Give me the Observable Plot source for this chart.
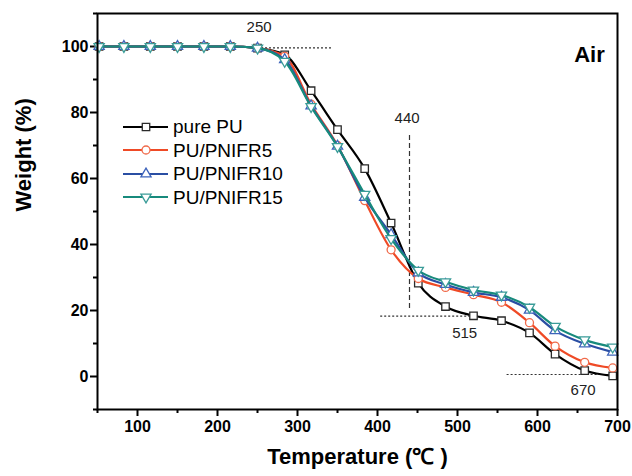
<!DOCTYPE html>
<html><head><meta charset="utf-8">
<script src="https://cdn.jsdelivr.net/npm/d3@7"></script>
<script src="https://cdn.jsdelivr.net/npm/@observablehq/plot@0.6"></script>
<style>
body{margin:0;background:#fff;}
#wrap{position:relative;width:632px;height:476px;font-family:Arial,"Liberation Sans",sans-serif;}
#legend{position:absolute;left:122px;top:115px;}
.row{display:flex;align-items:center;height:23.5px;}
.row span{font-size:19px;margin-left:4px;color:#000;line-height:1;}
</style></head><body><div id="wrap"><div id="legend"></div></div>
<script>
// ---- data ----
const temperature = [52, 83, 116, 150, 183, 216, 250, 284, 317, 350, 384, 417, 451, 485, 520, 555, 590, 622, 659, 694];
const purePU    = [100, 100, 100, 100, 100, 100, 99.5, 97.5, 86.6, 74.8, 63.0, 46.5, 28.3, 21.2, 18.4, 16.9, 13.2, 6.8, 1.8, 0.2];
const pnifr5    = [100, 100, 100, 100, 100, 100, 99.5, 97.0, 82.5, 70.0, 53.3, 38.4, 29.7, 27.0, 24.8, 22.5, 16.3, 9.2, 4.3, 2.6];
const pnifr10   = [100, 100, 100, 100, 100, 100, 99.5, 96.0, 82.0, 69.8, 54.3, 43.0, 31.4, 27.9, 25.5, 24.0, 20.1, 13.9, 9.9, 7.4];
const pnifr15   = [100, 100, 100, 100, 100, 100, 99.5, 95.5, 81.8, 69.7, 55.2, 41.8, 32.2, 28.7, 26.2, 24.7, 21.0, 15.2, 11.1, 8.9];
const seriesNames = ["pure PU", "PU/PNIFR5", "PU/PNIFR10", "PU/PNIFR15"];
const seriesValues = [purePU, pnifr5, pnifr10, pnifr15];
const lineColors = ["#000000", "#ef4a26", "#2a4ea3", "#178a7c"];
const markerColors = ["#2a2a2a", "#f06a4a", "#3d63bb", "#3a9c98"];

const xTicks = [100, 200, 300, 400, 500, 600, 700];
const xMinor = [50, 150, 250, 350, 450, 550, 650];
const yTicks = [0, 20, 40, 60, 80, 100];
const yMinor = [-10, 10, 30, 50, 70, 90, 110];

// annotations (temperature, weight)
const noteLabels = ["250", "440", "515", "670"];
const noteT = [252, 437, 509, 657];
const noteV = [105.8, 78.2, 13.0, -4.2];
const hGuideV  = [99.6, 18.3, 0.6];
const hGuideT1 = [250, 404, 562];
const hGuideT2 = [343, 518, 700];
const vGuideT = [440];
const vGuideV1 = [20.6];
const vGuideV2 = [73];

// ---- symbols ----
const sqrt3 = Math.sqrt(3);
const triangleDown = {
  draw(context, size) {
    const y = -Math.sqrt(size / (sqrt3 * 3));
    context.moveTo(0, -y * 2);
    context.lineTo(-sqrt3 * y, y);
    context.lineTo(sqrt3 * y, y);
    context.closePath();
  }
};
const symbols = [d3.symbolSquare, d3.symbolCircle, d3.symbolTriangle, triangleDown];
const radii = [4.2, 4, 3.8, 3.8];

const seriesMarks = [];
seriesNames.forEach((name, i) => {
  const rows = temperature.map((t, j) => ({T: t, v: seriesValues[i][j]}));
  seriesMarks.push(Plot.line(rows, {x: "T", y: "v", stroke: lineColors[i], strokeWidth: 2.2, curve: "monotone-x"}));
  seriesMarks.push(Plot.dot(rows, {x: "T", y: "v", symbol: () => symbols[i], r: radii[i], stroke: markerColors[i], strokeWidth: 1.3, fill: "white"}));
});

const notes = noteLabels.map((l, i) => ({label: l, T: noteT[i], v: noteV[i]}));
const hGuides = hGuideV.map((v, i) => ({v, x1: hGuideT1[i], x2: hGuideT2[i]}));
const vGuides = vGuideT.map((t, i) => ({t, y1: vGuideV1[i], y2: vGuideV2[i]}));

const chart = Plot.plot({
  width: 632, height: 476,
  marginLeft: 97, marginRight: 15, marginTop: 13, marginBottom: 67,
  style: {fontFamily: "Arial, 'Liberation Sans', sans-serif", background: "white", color: "#000"},
  x: {domain: [50, 700]},
  y: {domain: [-10, 110]},
  symbol: {type: "identity"},
  marks: [
    Plot.axisX({ticks: xTicks, tickSize: 7, tickPadding: 4, strokeWidth: 2, fontSize: 16, fontWeight: "bold", label: null}),
    Plot.axisX({ticks: xMinor, tickSize: 4, strokeWidth: 2, tickFormat: () => "", label: null}),
    Plot.axisY({ticks: yTicks, tickSize: 7, tickPadding: 2, strokeWidth: 2, fontSize: 16, fontWeight: "bold", label: null}),
    Plot.axisY({ticks: yMinor, tickSize: 4, strokeWidth: 2, tickFormat: () => "", label: null}),
    Plot.ruleY(hGuides, {y: "v", x1: "x1", x2: "x2", stroke: "#333", strokeWidth: 1.2, strokeDasharray: "2,2"}),
    Plot.ruleX(vGuides, {x: "t", y1: "y1", y2: "y2", stroke: "#333", strokeWidth: 1.2, strokeDasharray: "5,3"}),
    Plot.text(notes, {x: "T", y: "v", text: "label", fontSize: 15, fill: "#222"}),
    ...seriesMarks,
    Plot.text(["Air"], {frameAnchor: "top-right", dx: -28, dy: 33, fontSize: 22, fontWeight: "bold", textAnchor: "middle"}),
    Plot.text(["Temperature (℃ )"], {frameAnchor: "bottom", dy: 54, fontSize: 22, fontWeight: "bold"}),
    Plot.text(["Weight (%)"], {frameAnchor: "left", dx: -74, rotate: -90, fontSize: 22, fontWeight: "bold"}),
    Plot.frame({stroke: "#000", strokeWidth: 2})
  ]
});
document.getElementById("wrap").prepend(chart);
chart.style.position = "absolute"; chart.style.left = "0"; chart.style.top = "0";

// legend
const legend = document.getElementById("legend");
seriesNames.forEach((name, i) => {
  const row = document.createElement("div");
  row.className = "row";
  const sw = d3.create("svg").attr("width", 47).attr("height", 14);
  sw.append("line").attr("x1", 1).attr("x2", 46).attr("y1", 7).attr("y2", 7).attr("stroke", lineColors[i]).attr("stroke-width", 2.2);
  const r = radii[i];
  sw.append("path").attr("transform", "translate(24,7)")
    .attr("d", d3.symbol(symbols[i], Math.PI * r * r)())
    .attr("fill", "white").attr("stroke", markerColors[i]).attr("stroke-width", 1.3);
  row.appendChild(sw.node());
  const s = document.createElement("span");
  s.textContent = name;
  row.appendChild(s);
  legend.appendChild(row);
});
</script>
</body></html>
